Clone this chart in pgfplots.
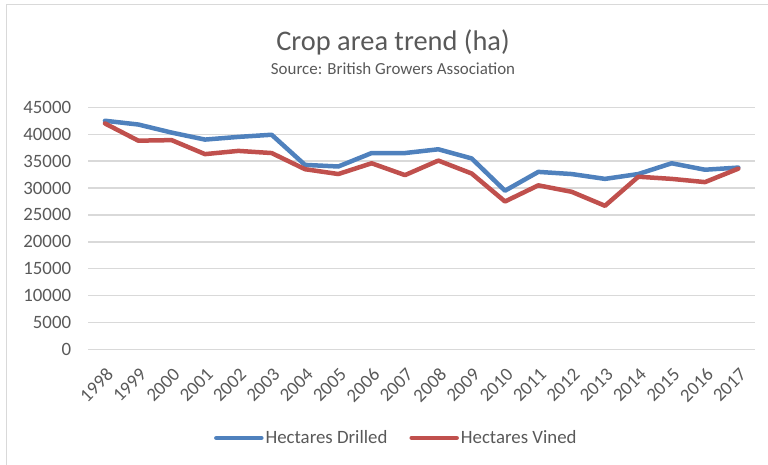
\documentclass[border=0pt]{standalone}
\usepackage{pgfplots}
\pgfplotsset{compat=1.18}
\usepackage{fontspec}
\setmainfont{Carlito}
\definecolor{txtgray}{HTML}{595959}
\definecolor{gridgray}{HTML}{D9D9D9}
\definecolor{drilled}{HTML}{4F81BD}
\definecolor{vined}{HTML}{C0504D}
\begin{document}
\begin{tikzpicture}
\path[use as bounding box] (0,0) rectangle (768bp,465bp);
\draw[gridgray, line width=1bp] (6bp,0) -- (6bp,460bp) -- (768bp,460bp);
\node[txtgray, font=\fontsize{28.5}{33}\selectfont, anchor=base] at (393bp,414bp) {Crop area trend (ha)};
\node[txtgray, font=\fontsize{17}{20}\selectfont, anchor=base] at (393bp,390bp) {Source: British Growers Association};
\begin{axis}[
  at={(88.3bp,115.5bp)}, anchor=south west,
  scale only axis, width=666.7bp, height=242.2bp,
  xmin=-0.5, xmax=19.5, ymin=0, ymax=45000,
  xtick={0,...,19},
  xticklabels={1998,1999,2000,2001,2002,2003,2004,2005,2006,2007,2008,2009,2010,2011,2012,2013,2014,2015,2016,2017},
  ytick={0,5000,...,45000},
  axis line style={draw=none},
  tick style={draw=none},
  ymajorgrids, grid style={gridgray, line width=1.3bp},
  scaled y ticks=false,
  /pgf/number format/assume math mode=true,
  yticklabel={\pgfmathprintnumber[fixed,1000 sep={}]{\tick}},
  yticklabel style={txtgray, font=\fontsize{18.9}{22}\selectfont, inner sep=0pt, anchor=east, xshift=-17bp},
  xticklabel style={txtgray, font=\fontsize{18.9}{22}\selectfont, inner sep=0pt, xshift=5bp, yshift=-22bp, rotate=45, anchor=east},
  legend columns=2,
  legend style={at={(0.462,-0.365)}, anchor=center, draw=none, fill=none,
    font=\fontsize{18.9}{22}\selectfont, text=txtgray,
    /tikz/every even column/.append style={column sep=20bp}},
  legend image code/.code={\draw[#1, line width=4.5bp, line cap=round] (0bp,0bp) -- (45bp,0bp);},
]
\addplot[drilled, line width=4.5bp, line join=round, line cap=round] coordinates {
(0,42500) (1,41800) (2,40300) (3,39000) (4,39500) (5,39900) (6,34300) (7,34000) (8,36500) (9,36500)
(10,37200) (11,35500) (12,29500) (13,33000) (14,32600) (15,31700) (16,32600) (17,34600) (18,33400) (19,33800)};
\addlegendentry{Hectares Drilled}
\addplot[vined, line width=4.5bp, line join=round, line cap=round] coordinates {
(0,42000) (1,38800) (2,38900) (3,36300) (4,36900) (5,36500) (6,33500) (7,32600) (8,34600) (9,32400)
(10,35100) (11,32700) (12,27500) (13,30500) (14,29300) (15,26700) (16,32100) (17,31700) (18,31100) (19,33600)};
\addlegendentry{Hectares Vined}
\end{axis}
\end{tikzpicture}
\end{document}
